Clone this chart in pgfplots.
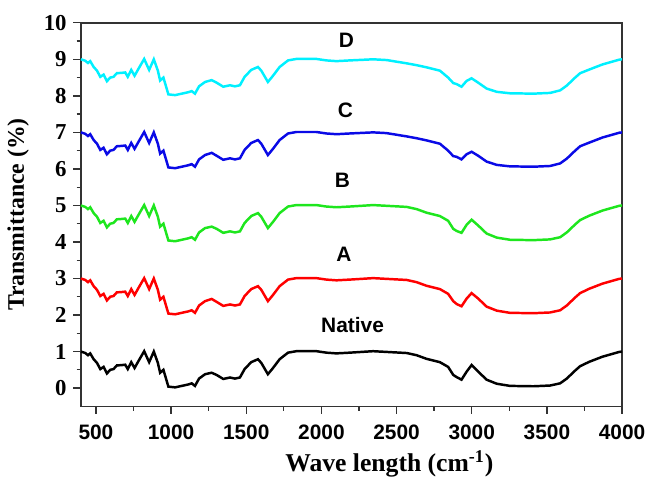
\documentclass[border=0pt]{standalone}
\usepackage{fontspec}
\setmainfont{Liberation Serif}
\newfontfamily\arial{Liberation Sans}
\usepackage{pgfplots}
\usepackage{pgfplotstable}
\pgfplotsset{compat=1.18}

\definecolor{cA}{RGB}{255,0,0}
\definecolor{cB}{RGB}{30,230,30}
\definecolor{cC}{RGB}{10,10,230}
\definecolor{cD}{RGB}{0,240,255}

% FTIR spectra, each sample offset by 2
\pgfplotstableread{
x     N     A     B     C     D
400   1.00  3.00  5.00  7.00  9.00
429   0.96  2.96  4.96  6.96  8.96
447   0.90  2.90  4.90  6.90  8.90
462   0.95  2.95  4.95  6.95  8.95
485   0.79  2.79  4.79  6.79  8.79
507   0.69  2.69  4.69  6.69  8.69
529   0.52  2.52  4.52  6.52  8.52
551   0.58  2.58  4.58  6.58  8.58
573   0.40  2.40  4.40  6.40  8.40
595   0.50  2.50  4.50  6.50  8.50
617   0.52  2.52  4.52  6.52  8.52
639   0.62  2.62  4.62  6.62  8.62
673   0.63  2.63  4.63  6.63  8.63
695   0.64  2.64  4.64  6.64  8.64
712   0.52  2.52  4.52  6.52  8.52
735   0.71  2.71  4.71  6.71  8.71
757   0.55  2.55  4.55  6.55  8.55
783   0.74  2.74  4.74  6.74  8.74
821   1.01  3.01  5.01  7.01  9.01
854   0.71  2.71  4.71  6.71  8.71
885   1.00  3.00  5.00  7.00  9.00
912   0.69  2.69  4.69  6.69  8.69
927   0.42  2.42  4.42  6.42  8.42
949   0.50  2.50  4.50  6.50  8.50
982   0.04  2.04  4.04  6.04  8.04
1027  0.02  2.02  4.02  6.02  8.02
1071  0.06  2.06  4.06  6.06  8.06
1115  0.10  2.10  4.10  6.10  8.10
1137  0.13  2.13  4.13  6.13  8.13
1159  0.06  2.06  4.06  6.06  8.06
1186  0.26  2.26  4.26  6.26  8.26
1226  0.38  2.38  4.38  6.38  8.38
1270  0.42  2.44  4.42  6.44  8.43
1303  0.36  2.36  4.36  6.36  8.36
1347  0.25  2.25  4.25  6.25  8.25
1392  0.29  2.29  4.29  6.29  8.29
1425  0.26  2.26  4.26  6.26  8.26
1458  0.29  2.29  4.29  6.29  8.29
1489  0.52  2.52  4.52  6.52  8.52
1533  0.71  2.71  4.71  6.71  8.71
1578  0.79  2.79  4.79  6.79  8.79
1600  0.69  2.69  4.69  6.69  8.69
1644  0.38  2.38  4.38  6.38  8.38
1678  0.55  2.55  4.55  6.55  8.55
1722  0.79  2.79  4.79  6.79  8.79
1778  0.97  2.97  4.97  6.97  8.97
1833  1.01  3.01  5.01  7.01  9.01
1967  1.01  3.01  5.01  7.01  9.01
2033  0.97  2.97  4.97  6.97  8.97
2100  0.95  2.95  4.95  6.95  8.95
2189  0.97  2.97  4.97  6.97  8.97
2344  1.01  3.01  5.01  7.00  9.00
2433  0.99  2.99  4.99  6.98  8.98
2567  0.96  2.96  4.96  6.89  8.89
2633  0.90  2.90  4.90  6.84  8.84
2700  0.80  2.80  4.80  6.78  8.78
2788  0.71  2.71  4.71  6.69  8.69
2843  0.58  2.58  4.58  6.50  8.50
2877  0.36  2.38  4.36  6.35  8.35
2900  0.30  2.30  4.30  6.33  8.32
2932  0.23  2.24  4.25  6.26  8.25
2966  0.45  2.45  4.47  6.40  8.41
2999  0.63  2.60  4.61  6.47  8.48
3043  0.45  2.45  4.45  6.36  8.36
3099  0.23  2.23  4.23  6.20  8.20
3166  0.12  2.12  4.12  6.11  8.11
3254  0.06  2.06  4.06  6.07  8.07
3410  0.05  2.05  4.05  6.06  8.06
3521  0.07  2.07  4.07  6.08  8.08
3588  0.13  2.13  4.13  6.15  8.15
3632  0.26  2.26  4.26  6.28  8.28
3688  0.48  2.48  4.48  6.50  8.50
3721  0.60  2.60  4.60  6.62  8.62
3782  0.72  2.72  4.72  6.72  8.72
3870  0.86  2.86  4.86  6.86  8.86
3981  0.99  2.99  4.99  6.99  8.99
4000  1.00  3.00  5.00  7.00  9.00
}\spectra

\begin{document}
\begin{tikzpicture}
\begin{axis}[
  scale only axis,
  width=285pt, height=202pt,
  xmin=400, xmax=4000,
  ymin=-0.5, ymax=10,
  xtick={500,1000,...,4000},
  ytick={0,1,...,10},
  minor x tick num=1,
  minor y tick num=1,
  xtick pos=bottom, ytick pos=left,
  tick align=outside,
  major tick length=4pt, minor tick length=2.2pt,
  axis line style={line width=0.8pt, black!80},
  every tick/.style={line width=0.7pt, black!80},
  /pgf/number format/assume math mode=true,
  /pgf/number format/1000 sep={},
  xticklabel style={font=\arial\bfseries\fontsize{11}{12}\selectfont, yshift=-2pt},
  yticklabel style={font=\bfseries\fontsize{12}{13}\selectfont},
  xlabel={Wave length (cm\textsuperscript{-1})},
  ylabel={Transmittance (\%)},
  xlabel style={font=\bfseries\fontsize{13.5}{15}\selectfont, at={(axis description cs:0.57,-0.15)}, anchor=center},
  ylabel style={font=\bfseries\fontsize{12.5}{14}\selectfont, at={(axis description cs:-0.116,0.5)}, anchor=center},
  every axis plot/.append style={line width=1.3pt, mark=none},
  clip=false,
]
\addplot[black] table[x=x, y=N] {\spectra};
\addplot[cA] table[x=x, y=A] {\spectra};
\addplot[cB] table[x=x, y=B] {\spectra};
\addplot[cC] table[x=x, y=C] {\spectra};
\addplot[cD] table[x=x, y=D] {\spectra};
\begin{scope}[every node/.style={font=\arial\bfseries\fontsize{11}{12}\selectfont}]
\node at (axis cs:2167,9.52) {D};
\node at (axis cs:2160,7.60) {C};
\node at (axis cs:2140,5.69) {B};
\node at (axis cs:2150,3.66) {A};
\node at (axis cs:2207,1.72) {Native};
\end{scope}
\coordinate (sw) at (rel axis cs:0,0);
\coordinate (ne) at (rel axis cs:1,1);
\end{axis}
\pgfresetboundingbox
\path ([shift={(-42.6pt,-37pt)}]sw) rectangle ([shift={(12.6pt,12pt)}]ne);
\end{tikzpicture}
\end{document}
